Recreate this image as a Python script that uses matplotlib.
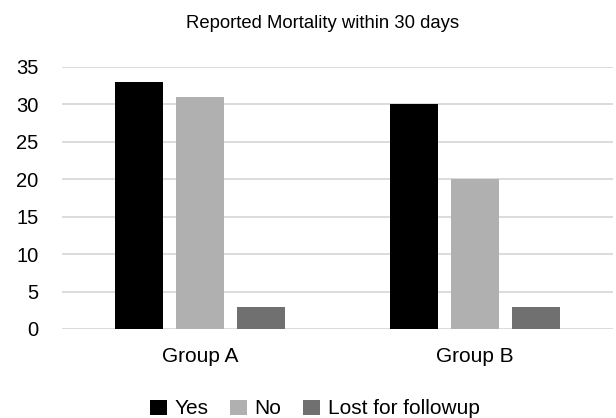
import matplotlib

matplotlib.use("Agg")
import matplotlib.pyplot as plt
import numpy as np

plt.rcParams["font.family"] = ["Liberation Sans", "DejaVu Sans"]

groups = ["Group A", "Group B"]
series = ["Yes", "No", "Lost for followup"]
yes_vals = [33, 30]
no_vals = [31, 20]
lost_vals = [3, 3]
colors = ["#000000", "#b0b0b0", "#707070"]

fig = plt.figure(figsize=(6.16, 4.18), dpi=100)
ax = fig.add_axes([62 / 616, 89 / 418, 551 / 616, 262 / 418])

x = np.arange(len(groups))
width = 0.174
step = 0.2215
for i, (name, vals) in enumerate(zip(series, [yes_vals, no_vals, lost_vals])):
    ax.bar(x + (i - 1) * step, vals, width, color=colors[i], label=name, zorder=3)

ax.set_xlim(-0.5, 1.5)
ax.set_ylim(0, 35)
ax.set_yticks(range(0, 36, 5))
ax.set_xticks(x)
ax.set_xticklabels(groups)
ax.tick_params(axis="y", length=0, labelsize=14.5, colors="#000000", pad=17)
ax.tick_params(axis="x", length=0, labelsize=15, colors="#000000", pad=13)
ax.grid(axis="y", color="#d9d9d9", linewidth=1.3, zorder=0)
for side in ax.spines.values():
    side.set_visible(False)

fig.text(0.523, 1 - 23 / 418, "Reported Mortality within 30 days", ha="center", va="center", fontsize=13.3)

handles, labels = ax.get_legend_handles_labels()
fig.legend(handles, labels, loc="center", bbox_to_anchor=(0.511, 1 - 409 / 418), ncol=3,
           frameon=False, fontsize=15, handlelength=0.82, handleheight=0.72,
           handletextpad=0.35, columnspacing=1.05)

fig.savefig("out.png", dpi=100)
